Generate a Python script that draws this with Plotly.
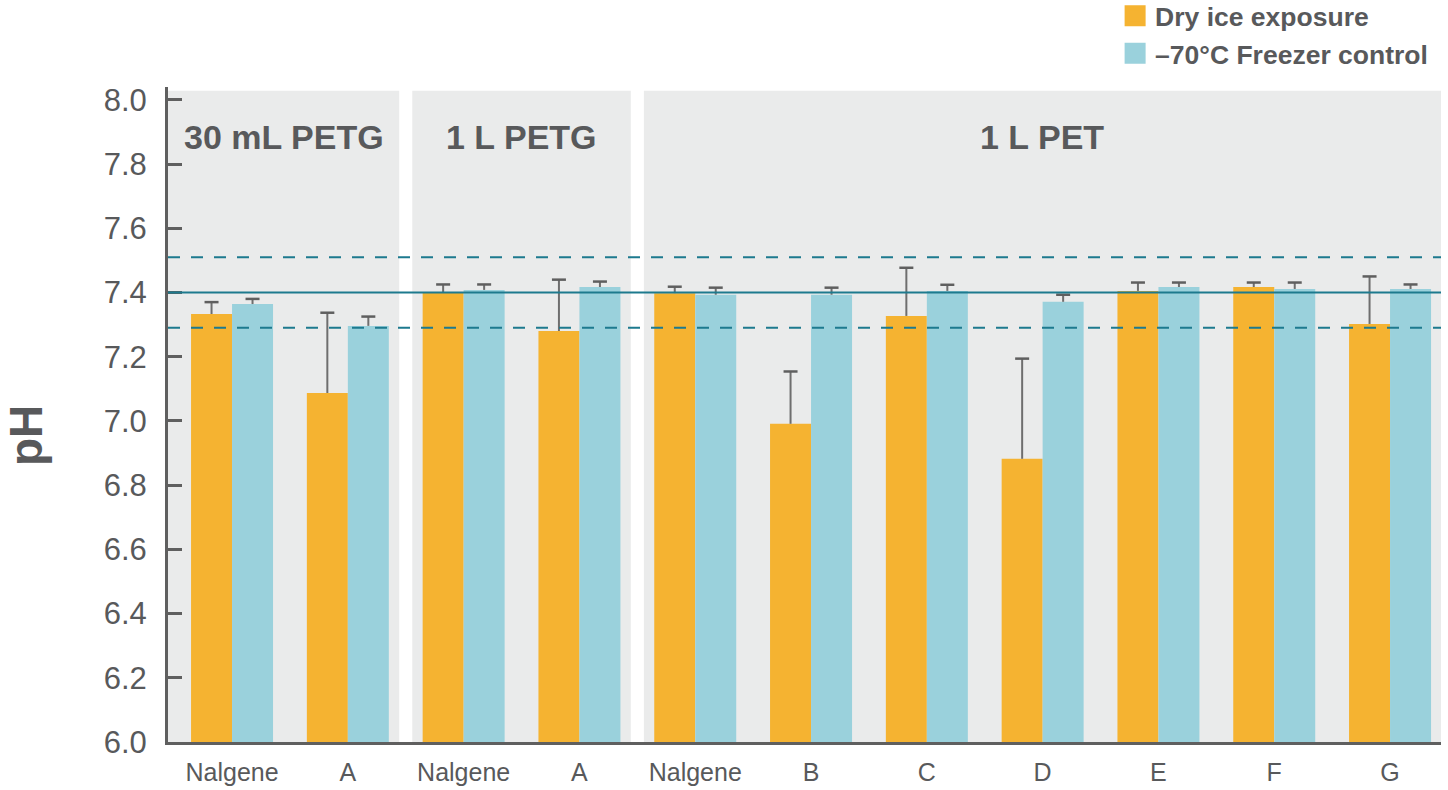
import plotly.graph_objects as go

# ---- data ----
categories = ["Nalgene", "A", "Nalgene", "A", "Nalgene", "B", "C", "D", "E", "F", "G"]
panel_names = ["30 mL PETG", "1 L PETG", "1 L PET"]
panel_members = [[0, 1], [2, 3], [4, 5, 6, 7, 8, 9, 10]]
dry_ice = [7.333, 7.087, 7.400, 7.280, 7.398, 6.991, 7.327, 6.882, 7.405, 7.417, 7.302]
dry_ice_err = [0.037, 0.250, 0.025, 0.160, 0.020, 0.163, 0.150, 0.312, 0.026, 0.014, 0.148]
freezer = [7.364, 7.296, 7.408, 7.417, 7.393, 7.393, 7.405, 7.371, 7.417, 7.411, 7.411]
freezer_err = [0.016, 0.029, 0.017, 0.017, 0.022, 0.022, 0.019, 0.022, 0.014, 0.020, 0.014]
ref_solid = [7.40]
ref_dashed = [7.51, 7.29]
y_ticks = [6.0, 6.2, 6.4, 6.6, 6.8, 7.0, 7.2, 7.4, 7.6, 7.8, 8.0]

ORANGE = "#F5B331"
BLUE = "#9AD1DC"
PANEL = "#EAEBEB"
AXIS = "#5F5F5F"
TEXT = "#58595B"
REF = "#1D7A8E"
ERR = "#6E6E6E"
FONT = "Liberation Sans"

BARGAP = 0.292
half = (1 - BARGAP) / 4  # offset of each bar centre from category centre

xs = list(range(len(categories)))

fig = go.Figure()
fig.add_trace(go.Bar(
    x=xs, y=dry_ice, marker=dict(color=ORANGE, line=dict(width=0)),
    showlegend=False, name="Dry ice exposure",
    error_y=dict(type="data", array=dry_ice_err, arrayminus=[0] * len(xs),
                 symmetric=False, width=0, thickness=2, color=ERR),
))
fig.add_trace(go.Bar(
    x=xs, y=freezer, marker=dict(color=BLUE, line=dict(width=0)),
    showlegend=False, name="\u201370\u00b0C Freezer control",
    error_y=dict(type="data", array=freezer_err, arrayminus=[0] * len(xs),
                 symmetric=False, width=0, thickness=2, color=ERR),
))
# error bar caps
fig.add_trace(go.Scatter(
    x=[x - half for x in xs], y=[v + e for v, e in zip(dry_ice, dry_ice_err)],
    mode="markers", showlegend=False, hoverinfo="skip",
    marker=dict(symbol="line-ew", size=10, line=dict(color=AXIS, width=2.5)),
))
fig.add_trace(go.Scatter(
    x=[x + half for x in xs], y=[v + e for v, e in zip(freezer, freezer_err)],
    mode="markers", showlegend=False, hoverinfo="skip",
    marker=dict(symbol="line-ew", size=10, line=dict(color=AXIS, width=2.5)),
))
# legend entries
for nm, col in [("Dry ice exposure", ORANGE), ("\u201370\u00b0C Freezer control", BLUE)]:
    fig.add_trace(go.Scatter(
        x=[None], y=[None], mode="markers", name=nm,
        marker=dict(symbol="square", size=16, color=col, line=dict(color=col, width=5)),
    ))

XMIN, XMAX = -0.553, 10.44
YMIN, YMAX = 6.0, 8.04
PANEL_TOP = 8.028

shapes = []
annotations = []
gap = 0.0565
for i, (nm, members) in enumerate(zip(panel_names, panel_members)):
    x0 = XMIN if i == 0 else members[0] - 0.5 + gap
    x1 = XMAX if i == len(panel_names) - 1 else members[-1] + 0.5 - gap
    shapes.append(dict(type="rect", xref="x", yref="y", x0=x0, x1=x1, y0=YMIN, y1=PANEL_TOP,
                       fillcolor=PANEL, line=dict(width=0), layer="below"))
    annotations.append(dict(x=(x0 + x1) / 2, y=7.885, xref="x", yref="y", text=nm,
                            xanchor="center", yanchor="middle",
                            showarrow=False, font=dict(family=FONT, size=34, color=TEXT, weight="bold")))

for v in ref_solid:
    shapes.append(dict(type="line", xref="paper", yref="y", x0=0, x1=1, y0=v, y1=v,
                       line=dict(color=REF, width=2), layer="above"))
for v in ref_dashed:
    shapes.append(dict(type="line", xref="paper", yref="y", x0=0, x1=1, y0=v, y1=v,
                       line=dict(color=REF, width=2, dash="12px,11px"), layer="above"))

annotations.append(dict(x=-0.111, y=6.955, xref="paper", yref="y", text="pH", textangle=-90,
                        xanchor="center", yanchor="middle",
                        showarrow=False, font=dict(family=FONT, size=46, color=TEXT, weight="bold")))

fig.update_layout(
    width=1448, height=790,
    margin=dict(l=168, r=7, t=87, b=48, autoexpand=False),
    paper_bgcolor="white", plot_bgcolor="white",
    barmode="group", bargap=BARGAP, bargroupgap=0,
    font=dict(family=FONT, color=TEXT),
    shapes=shapes, annotations=annotations,
    showlegend=True,
    legend=dict(x=0.744, xanchor="left", y=1.145, yanchor="top",
                font=dict(family=FONT, size=26.5, color=TEXT, weight="bold"),
                bgcolor="rgba(0,0,0,0)", borderwidth=0, tracegroupgap=0,
                itemsizing="trace"),
    xaxis=dict(range=[XMIN, XMAX], tickmode="array", tickvals=xs, ticktext=categories,
               showgrid=False, zeroline=False, showline=True, linecolor=AXIS, linewidth=2.5,
               ticks="", tickfont=dict(family=FONT, size=25, color=TEXT),
               ticklabelstandoff=6, automargin=False),
    yaxis=dict(range=[YMIN, YMAX], tickmode="array", tickvals=y_ticks,
               ticktext=[f"{t:.1f}" for t in y_ticks],
               showgrid=False, zeroline=False, showline=True, linecolor=AXIS, linewidth=3,
               ticks="inside", ticklen=14, tickwidth=3, tickcolor=AXIS,
               tickfont=dict(family=FONT, size=31, color=TEXT), ticklabelstandoff=12,
               automargin=False),
)

fig.write_html("out.html")
